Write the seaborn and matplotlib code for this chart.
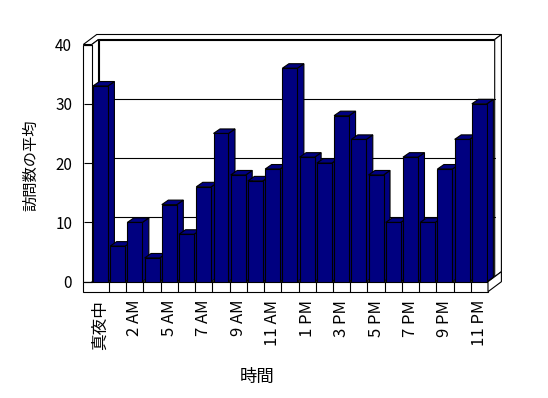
import matplotlib
matplotlib.use("Agg")
import matplotlib.pyplot as plt
import seaborn as sns
from matplotlib.patches import Polygon
from matplotlib.transforms import ScaledTranslation, blended_transform_factory

# ---- data ----
hours = ["真夜中", "1 AM", "2 AM", "4 AM", "5 AM", "6 AM", "7 AM", "8 AM", "9 AM",
         "10 AM", "11 AM", "12 PM", "1 PM", "2 PM", "3 PM", "4 PM", "5 PM", "6 PM",
         "7 PM", "8 PM", "9 PM", "10 PM", "11 PM"]
visits = [33, 6, 10, 4, 13, 8, 16, 25, 18, 17, 19, 36, 21, 20, 28, 24, 18, 10,
          21, 10, 19, 24, 30]
tick_labels = hours[::2]
y_ticks = [0, 10, 20, 30, 40]
x_title = "時間"
y_title = "訪問数の平均"

sns.set_theme(style="white", rc={"text.color": "black", "xtick.color": "black",
                                 "ytick.color": "black", "axes.labelcolor": "black"})
plt.rcParams['font.family'] = ['Noto Sans CJK JP', 'DejaVu Sans']

W, H = 548, 398
fig = plt.figure(figsize=(W / 100, H / 100), dpi=100)
fig.patch.set_facecolor('white')


def fx(px):
    return px / W


def fy(py):
    return 1 - py / H


# frame geometry (pixels, y downward)
L_OUT, L_IN, R_IN = 83.3, 91.8, 488.0
TOP, BASE, FLOOR_BOT = 44.5, 281.7, 291.7
DX, DY = 13.4, 10.0   # full depth
HX, HY = 6.7, 5.0     # half depth
LW = 0.8

bg = fig.add_axes([0, 0, 1, 1])
bg.set_xlim(0, W)
bg.set_ylim(H, 0)
bg.axis('off')


def poly(pts, z=1):
    bg.add_patch(Polygon(pts, closed=True, facecolor='white', edgecolor='black',
                         linewidth=LW, zorder=z, joinstyle='miter'))


# back wall face
poly([(L_IN + HX, TOP - HY), (R_IN + HX, TOP - HY), (R_IN + HX, BASE - HY), (L_IN + HX, BASE - HY)])
# top strip
poly([(L_OUT, TOP), (L_OUT + DX, TOP - DY), (R_IN + DX, TOP - DY), (R_IN + HX, TOP - HY),
      (L_IN + HX, TOP - HY), (L_IN, TOP)])
# right strip of back wall
poly([(R_IN + HX, TOP - HY), (R_IN + DX, TOP - DY), (R_IN + DX, BASE - DY), (R_IN + HX, BASE - HY)])
# left wall inner face
poly([(L_IN, TOP), (L_IN + HX, TOP - HY), (L_IN + HX, BASE - HY), (L_IN, BASE)])
# left wall front face
poly([(L_OUT, TOP), (L_IN, TOP), (L_IN, BASE), (L_OUT, BASE)])
# floor top
poly([(L_IN, BASE), (R_IN, BASE), (R_IN + HX, BASE - HY), (L_IN + HX, BASE - HY)])
# floor front
poly([(L_OUT, BASE), (R_IN, BASE), (R_IN, FLOOR_BOT), (L_OUT, FLOOR_BOT)])
# floor right end
poly([(R_IN, BASE), (R_IN + HX, BASE - HY), (R_IN + DX, BASE - DY),
      (R_IN + DX, FLOOR_BOT - DY), (R_IN, FLOOR_BOT)])

# ---- main seaborn axes ----
ax = fig.add_axes([fx(L_IN), fy(BASE), (R_IN - L_IN) / W, (BASE - TOP) / H])
ax.set_facecolor('none')
sns.barplot(x=hours, y=visits, order=hours, color='#000080', saturation=1,
            width=0.87, edgecolor='black', linewidth=LW, ax=ax)
ax.set_xlim(-0.5, len(hours) - 0.5)
ax.set_ylim(y_ticks[0], y_ticks[-1])
for s in ax.spines.values():
    s.set_visible(False)

# 3D side/top faces for the bars
t = ax.transData
p0 = t.transform((0, 0))
p1 = t.transform((1, 1))
ux, uy = p1[0] - p0[0], p1[1] - p0[1]
bdx, bdy = 6.5 / ux, 4.5 / uy
bars = sorted(ax.patches, key=lambda b: b.get_x())
for i, bar in enumerate(bars):
    x0 = bar.get_x()
    x1 = x0 + bar.get_width()
    h = bar.get_height()
    bar.set_zorder(10 + 2 * i + 1)
    side = Polygon([(x1, 0), (x1 + bdx, bdy), (x1 + bdx, h + bdy), (x1, h)], closed=True,
                   facecolor='#000080', edgecolor='black', linewidth=LW, zorder=10 + 2 * i,
                   clip_on=False)
    top = Polygon([(x0, h), (x1, h), (x1 + bdx, h + bdy), (x0 + bdx, h + bdy)], closed=True,
                  facecolor='#000080', edgecolor='black', linewidth=LW, zorder=10 + 2 * i,
                  clip_on=False)
    ax.add_patch(side)
    ax.add_patch(top)

# back-wall gridlines (offset by half depth)
back = ax.transData + ScaledTranslation(HX / 100, HY / 100, fig.dpi_scale_trans)
for v in y_ticks[1:-1]:
    ax.plot([-0.5, len(hours) - 0.5], [v, v], color='black', linewidth=LW,
            transform=back, zorder=1, clip_on=False)

# floor dividers between categories
blend = blended_transform_factory(ax.transData, fig.transFigure)
for i in range(len(hours) - 1):
    ax.plot([i + 0.5, i + 0.5], [fy(BASE), fy(FLOOR_BOT)], color='black', linewidth=LW,
            transform=blend, zorder=1, clip_on=False)

# ticks and labels
ax.set_yticks(y_ticks)
ax.set_yticklabels([str(v) for v in y_ticks])
ax.tick_params(axis='y', direction='out', length=6.1, width=LW, pad=8, labelsize=11,
               left=True)
ax.set_xticks(range(0, len(hours), 2))
ax.set_xticklabels(tick_labels, rotation=90)
ax.tick_params(axis='x', length=0, pad=13, labelsize=12)
ax.set_xlabel('')
ax.set_ylabel('')

fig.text(fx(31), fy(165), y_title, rotation=90, ha='center', va='center', fontsize=11)
fig.text(fx(257), fy(377), x_title, ha='center', va='center', fontsize=12.5)

fig.savefig('out.png', dpi=100, facecolor='white')
